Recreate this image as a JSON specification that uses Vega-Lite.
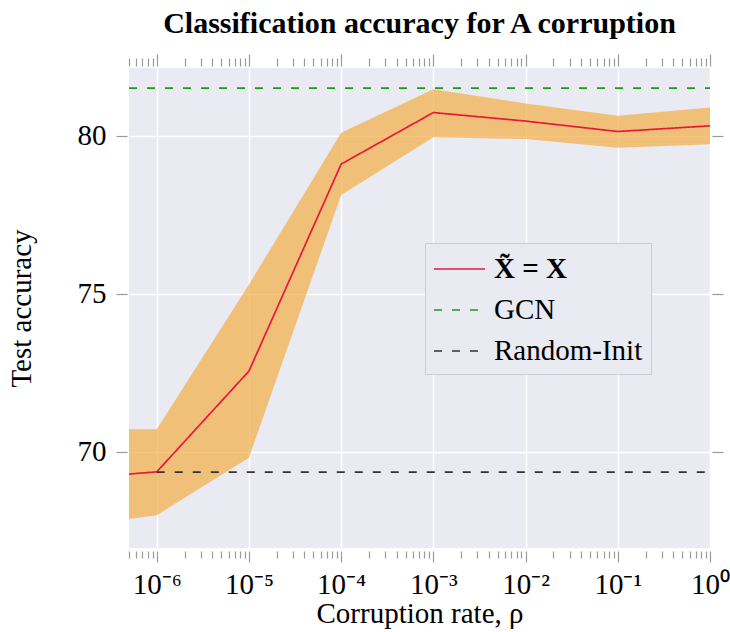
{
  "$schema": "https://vega.github.io/schema/vega-lite/v6.json",
  "width": 581,
  "height": 480,
  "autosize": {"type": "none"},
  "padding": {"left": 129, "top": 68, "right": 20, "bottom": 84},
  "title": {"text": "Classification accuracy for A corruption", "font": "Liberation Serif", "fontSize": 30, "fontWeight": "bold", "color": "#000000", "offset": 14, "anchor": "middle"},
  "config": {
    "view": {"fill": "#EAEAF2", "stroke": null},
    "axis": {"domain": false, "gridColor": "#ffffff", "gridWidth": 1.5, "tickColor": "#9a9a9a", "tickWidth": 1.2, "labelFont": "Liberation Serif", "titleFont": "Liberation Serif", "labelColor": "#000000", "titleColor": "#000000", "titleFontWeight": "normal"}
  },
  "datasets": {
    "band": [
      {"rho": 5e-7, "lo": 67.88, "hi": 70.72},
      {"rho": 1e-6, "lo": 68.0, "hi": 70.72},
      {"rho": 1e-5, "lo": 69.82, "hi": 75.3},
      {"rho": 1e-4, "lo": 78.13, "hi": 80.1},
      {"rho": 1e-3, "lo": 79.96, "hi": 81.48},
      {"rho": 1e-2, "lo": 79.9, "hi": 81.03},
      {"rho": 1e-1, "lo": 79.63, "hi": 80.64},
      {"rho": 1, "lo": 79.74, "hi": 80.9}
    ],
    "lines": [
      {"series": "X̃ = X", "rho": 5e-7, "acc": 69.3},
      {"series": "X̃ = X", "rho": 1e-6, "acc": 69.37},
      {"series": "X̃ = X", "rho": 1e-5, "acc": 72.56},
      {"series": "X̃ = X", "rho": 1e-4, "acc": 79.11},
      {"series": "X̃ = X", "rho": 1e-3, "acc": 80.74},
      {"series": "X̃ = X", "rho": 1e-2, "acc": 80.47},
      {"series": "X̃ = X", "rho": 1e-1, "acc": 80.14},
      {"series": "X̃ = X", "rho": 1, "acc": 80.32},
      {"series": "GCN", "rho": 5e-7, "acc": 81.51},
      {"series": "GCN", "rho": 1, "acc": 81.51},
      {"series": "Random-Init", "rho": 1e-6, "acc": 69.36},
      {"series": "Random-Init", "rho": 1, "acc": 69.36}
    ]
  },
  "layer": [
    {
      "data": {"name": "band"},
      "mark": {"type": "area", "color": "#F2AE45", "opacity": 0.7},
      "encoding": {
        "x": {"field": "rho", "type": "quantitative",
          "scale": {"type": "log", "domain": [5e-7, 1], "nice": false},
          "axis": {
            "orient": "bottom", "title": "Corruption rate, ρ", "titleFontSize": 29, "titlePadding": 0,
            "values": [5e-7, 6e-7, 7e-7, 8e-7, 9e-7, 1e-6, 2e-6, 3e-6, 4e-6, 5e-6, 6e-6, 7e-6, 8e-6, 9e-6, 1e-5, 2e-5, 3e-5, 4e-5, 5e-5, 6e-5, 7e-5, 8e-5, 9e-5, 1e-4, 2e-4, 3e-4, 4e-4, 5e-4, 6e-4, 7e-4, 8e-4, 9e-4, 1e-3, 2e-3, 3e-3, 4e-3, 5e-3, 6e-3, 7e-3, 8e-3, 9e-3, 1e-2, 2e-2, 3e-2, 4e-2, 5e-2, 6e-2, 7e-2, 8e-2, 9e-2, 0.1, 0.2, 0.3, 0.4, 0.5, 0.6, 0.7, 0.8, 0.9, 1],
            "labelExpr": "abs(log(datum.value)/LN10 - round(log(datum.value)/LN10)) < 1e-6 ? '10' + (round(log(datum.value)/LN10) < 0 ? '⁻' : '') + substring('⁰¹²³⁴⁵⁶⁷⁸⁹', abs(round(log(datum.value)/LN10)), abs(round(log(datum.value)/LN10)) + 1) : ''",
            "labelFontSize": 29, "labelOverlap": false, "labelFlush": false, "labelPadding": 8,
            "offset": 3,
            "tickSize": {"condition": {"test": "abs(log(datum.value)/LN10 - round(log(datum.value)/LN10)) < 1e-6", "value": 11}, "value": 7},
            "gridOpacity": {"condition": {"test": "abs(log(datum.value)/LN10 - round(log(datum.value)/LN10)) < 1e-6", "value": 1}, "value": 0},
            "grid": true
          }
        },
        "y": {"field": "lo", "type": "quantitative",
          "scale": {"domain": [66.96, 82.15], "nice": false, "zero": false},
          "axis": {"orient": "left", "title": "Test accuracy", "titleFontSize": 29, "titlePadding": 41, "values": [70, 75, 80], "labelFontSize": 29, "tickSize": 11, "offset": 2, "labelPadding": 10, "grid": true}
        },
        "y2": {"field": "hi"}
      }
    },
    {
      "data": {"name": "lines"},
      "mark": {"type": "line", "strokeWidth": 1.7},
      "encoding": {
        "x": {"field": "rho", "type": "quantitative",
          "axis": {
            "orient": "top", "title": null, "labels": false, "grid": false, "offset": 2,
            "values": [5e-7, 6e-7, 7e-7, 8e-7, 9e-7, 1e-6, 2e-6, 3e-6, 4e-6, 5e-6, 6e-6, 7e-6, 8e-6, 9e-6, 1e-5, 2e-5, 3e-5, 4e-5, 5e-5, 6e-5, 7e-5, 8e-5, 9e-5, 1e-4, 2e-4, 3e-4, 4e-4, 5e-4, 6e-4, 7e-4, 8e-4, 9e-4, 1e-3, 2e-3, 3e-3, 4e-3, 5e-3, 6e-3, 7e-3, 8e-3, 9e-3, 1e-2, 2e-2, 3e-2, 4e-2, 5e-2, 6e-2, 7e-2, 8e-2, 9e-2, 0.1, 0.2, 0.3, 0.4, 0.5, 0.6, 0.7, 0.8, 0.9, 1],
            "tickSize": {"condition": {"test": "abs(log(datum.value)/LN10 - round(log(datum.value)/LN10)) < 1e-6", "value": 12}, "value": 8}
          }
        },
        "y": {"field": "acc", "type": "quantitative",
          "axis": {"orient": "right", "title": null, "labels": false, "grid": false, "values": [70, 75, 80], "tickSize": 11, "offset": 2}
        },
        "color": {"field": "series", "type": "nominal",
          "scale": {"domain": ["X̃ = X", "GCN", "Random-Init"], "range": ["#E8183C", "#1A9A1A", "#333333"]},
          "legend": {"title": null, "orient": "none", "legendX": 296, "legendY": 175, "labelFont": "Liberation Serif", "labelFontSize": 29, "labelColor": "#000000", "symbolType": "M-1,0H2", "symbolSize": 1156, "symbolStrokeWidth": 1.6, "labelOffset": 25, "rowPadding": 8, "padding": 8, "fillColor": "#EAEAF2", "strokeColor": "#cccccc",
            "encode": {"labels": {"update": {"fontWeight": {"signal": "datum.label === 'X̃ = X' ? 'bold' : 'normal'"}}}}}
        },
        "strokeDash": {"field": "series", "type": "nominal",
          "scale": {"domain": ["X̃ = X", "GCN", "Random-Init"], "range": [[1, 0], [8, 10], [8, 10]]},
          "legend": {"title": null, "orient": "none", "legendX": 296, "legendY": 175, "labelFont": "Liberation Serif", "labelFontSize": 29, "labelColor": "#000000", "symbolType": "M-1,0H2", "symbolSize": 1156, "symbolStrokeWidth": 1.6, "labelOffset": 25, "rowPadding": 8, "padding": 8, "fillColor": "#EAEAF2", "strokeColor": "#cccccc"}
        }
      }
    }
  ],
  "resolve": {"axis": {"x": "independent", "y": "independent"}}
}
